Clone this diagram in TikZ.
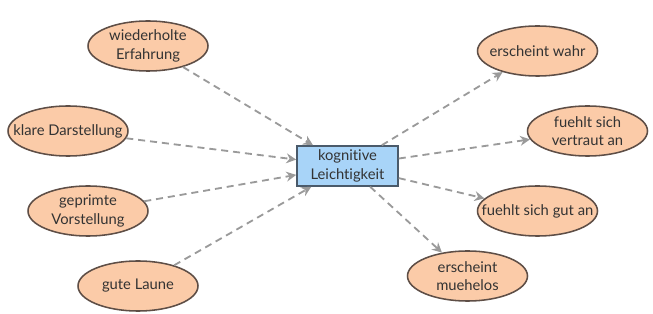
\documentclass[tikz,border=0pt]{standalone}
\usepackage{fontspec}
\setmainfont[Ligatures=NoCommon]{Lato}
\usetikzlibrary{arrows.meta,shapes.geometric}
\definecolor{peach}{HTML}{FBCBA8}
\definecolor{peachline}{HTML}{5E4E46}
\definecolor{skyfill}{HTML}{A8D4F8}
\definecolor{skyline}{HTML}{4A5A6A}
\definecolor{arrowgray}{HTML}{9A9A9A}
\definecolor{inktext}{HTML}{333333}
\tikzset{
	effect/.style={ellipse, draw=peachline, fill=peach, line width=1.1pt, minimum width=120*0.025cm,
		minimum height=50*0.025cm, inner xsep=-14pt, inner ysep=0pt, align=center, text=inktext,
		font=\fontsize{10.5}{13}\selectfont},
	ease/.style={rectangle, draw=skyline, fill=skyfill, line width=1.1pt, minimum width=101*0.025cm,
		minimum height=40*0.025cm, inner sep=0pt, align=center, text=inktext, font=\fontsize{10.5}{13}\selectfont},
	link/.style={draw=arrowgray, line width=1.3pt, dash pattern=on 5pt off 3.5pt,
		-{Stealth[length=7pt,width=7pt,fill=arrowgray]}}
}
\begin{document}
\begin{tikzpicture}[x=0.025cm, y=-0.025cm]
	\useasboundingbox (0,0) rectangle (653,314);
	% centre box
	\node[ease] (kl) at (347.5,166) {kognitive\\Leichtigkeit};
	% causes, left side
	\node[effect] (wiederholt) at (148,46) {wiederholte\\Erfahrung};
	\node[effect] (klar) at (68,131) {klare Darstellung};
	\node[effect] (geprimt) at (88,211) {geprimte\\Vorstellung};
	\node[effect] (laune) at (138,286) {gute Laune};
	% effects, right side
	\node[effect] (wahr) at (537.5,51) {erscheint wahr};
	\node[effect] (vertraut) at (587.5,131) {fuehlt sich\\vertraut an};
	\node[effect] (gut) at (537.5,211) {fuehlt sich gut an};
	\node[effect] (muehelos) at (467.5,276) {erscheint\\muehelos};
	% connectors
	\foreach \src in {wiederholt, klar, geprimt, laune}
		\draw[link] (\src) -- (kl);
	\foreach \dst in {wahr, vertraut, gut, muehelos}
		\draw[link] (kl) -- (\dst);
\end{tikzpicture}
\end{document}
